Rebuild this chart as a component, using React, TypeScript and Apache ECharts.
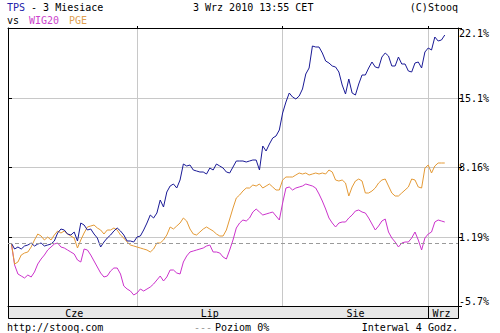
import React, { useEffect, useRef } from 'react';
import * as echarts from 'echarts';

// ---- data ----
const MONTH_LABELS = ['Cze', 'Lip', 'Sie', 'Wrz'];
const MONTH_LABEL_SLOTS = [20, 61, 105, 131];
const MONTH_START_SLOTS = [39, 83, 127];
const SLOT_COUNT = 137;

const Y_TICKS = [-5.7, 1.19, 8.16, 15.1, 22.1];
const Y_TICK_LABELS = ['-5.7%', '1.19%', '8.16%', '15.1%', '22.1%'];
const ZERO_LEVEL = 0.6;

const TPS = [
  0.6, 0.0, 0.2, 0.0, 0.3, 0.4, 0.6, 0.3, 0.5, 0.6,
  0.3, 0.4, 0.5, 0.8, 1.6, 2.0, 1.9, 1.5, 1.4, 1.7,
  0.8, 2.6, 2.4, 1.9, 2.0, 1.5, 1.1, 0.2, 0.7, 1.1,
  1.4, 1.8, 2.1, 1.8, 1.4, 0.8, 0.8, 0.7, 1.2, 1.3,
  1.9, 2.6, 3.4, 3.1, 3.6, 4.9, 4.2, 5.7, 6.3, 6.5,
  6.1, 6.9, 8.5, 8.3, 8.4, 7.9, 7.8, 7.7, 7.7, 7.5,
  8.1, 7.9, 8.5, 8.3, 8.1, 7.7, 7.6, 8.2, 8.8, 8.8,
  8.8, 8.7, 8.8, 8.9, 8.9, 7.9, 10.3, 9.8, 10.5, 11.1,
  11.3, 11.9, 13.6, 14.7, 15.6, 15.2, 15.0, 15.3, 16.0, 17.5,
  18.1, 20.3, 20.2, 20.2, 19.6, 18.8, 18.6, 18.3, 18.2, 17.7,
  16.4, 15.5, 17.0, 15.6, 15.4, 16.5, 17.4, 17.4, 18.1, 18.7,
  18.2, 18.1, 19.2, 19.6, 19.3, 18.3, 18.3, 19.2, 18.5, 18.5,
  17.8, 17.7, 18.6, 18.7, 18.1, 19.7, 20.1, 19.9, 21.2, 20.8,
  20.9, 21.4,
];

const PGE = [
  0.6, -1.5, -1.3, -0.6, -0.4, -0.3, 0.2, 0.9, 1.5, 1.3,
  0.9, 1.2, 0.9, 1.4, 1.8, 1.6, 1.8, 1.5, 1.3, 1.1,
  0.1, 0.9, 1.6, 2.2, 2.3, 2.4, 2.1, 1.9, 1.5, 1.9,
  1.9, 2.1, 1.9, 1.4, 1.1, 0.7, 0.4, 0.3, 0.2, 0.1,
  0.0, -0.1, -0.3, 0.0, 0.6, 0.6, 0.9, 1.4, 2.2, 2.0,
  2.3, 2.6, 3.1, 2.8, 2.0, 1.5, 1.4, 1.7, 2.0, 2.2,
  2.0, 1.8, 1.5, 1.3, 1.3, 1.9, 3.0, 4.1, 5.1, 5.4,
  5.8, 6.1, 6.1, 6.4, 6.3, 6.5, 6.1, 6.3, 6.5, 6.2,
  5.9, 5.9, 6.9, 7.2, 7.2, 7.2, 7.4, 7.6, 7.5, 7.6,
  7.4, 7.5, 7.6, 7.5, 7.6, 7.5, 7.9, 7.7, 6.9, 6.8,
  6.9, 6.6, 5.3, 6.2, 6.8, 7.0, 6.8, 5.6, 5.6, 5.8,
  6.1, 6.6, 6.9, 7.0, 6.3, 5.6, 5.3, 5.3, 5.6, 5.9,
  6.2, 7.0, 6.9, 6.2, 6.1, 8.1, 8.4, 7.6, 8.3, 8.6,
  8.6, 8.6,
];

const WIG20 = [
  0.6, -1.6, -2.5, -2.7, -2.9, -2.6, -2.8, -2.3, -1.5, -1.0,
  -0.6, -0.1, 0.2, 0.5, 0.6, 0.2, 0.1, -0.1, -0.3, -0.5,
  -1.1, -1.3, 0.0, -0.1, -0.6, -1.2, -1.8, -2.4, -2.8, -2.7,
  -2.2, -1.9, -1.9, -2.5, -3.7, -4.0, -4.2, -4.6, -4.4, -4.0,
  -4.2, -4.0, -3.8, -3.5, -3.1, -2.7, -3.2, -2.8, -2.1, -2.1,
  -2.4, -2.5, -1.3, -0.7, -0.3, -0.2, -0.1, 0.0, 0.1, 0.3,
  0.4, -0.3, -0.3, -0.4, -0.8, -1.0, -0.1, 0.9, 2.1, 2.6,
  2.9, 2.8, 3.1, 3.7, 4.0, 3.7, 3.4, 3.5, 3.6, 3.7,
  3.3, 2.9, 4.6, 6.1, 6.2, 5.9, 6.1, 6.2, 6.3, 6.5,
  6.4, 6.3, 6.1, 5.5, 4.8, 4.0, 3.1, 2.6, 2.2, 2.6,
  2.7, 2.7, 3.1, 3.4, 3.8, 3.9, 3.7, 3.6, 3.1, 2.5,
  1.9, 2.3, 2.8, 3.0, 1.7, 1.1, 0.7, 0.2, 0.6, 0.7,
  0.7, 1.1, 1.7, 0.9, -0.1, 1.1, 1.5, 1.7, 2.7, 2.9,
  2.8, 2.7,
];

const COLORS = { tps: '#1a1a96', wig: '#cc33cc', pge: '#e49a36' };
const FONT = '"DejaVu Sans Mono", monospace';

export default function App() {
  const ref = useRef<HTMLDivElement>(null);

  useEffect(() => {
    if (!ref.current) return;
    const chart = echarts.init(ref.current, null, { renderer: 'svg' });
    const categories = Array.from({ length: SLOT_COUNT }, (_, i) => 'p' + i);
    const pad = (arr: number[]) => [null, ...arr];
    const tickLabel = (v: number) => {
      let best = 0;
      Y_TICKS.forEach((t, i) => {
        if (Math.abs(t - v) < Math.abs(Y_TICKS[best] - v)) best = i;
      });
      return Y_TICK_LABELS[best];
    };
    const txt = (text: string, x: number, y: number, fill = '#000', align = 'left') => ({
      type: 'text',
      x,
      y,
      silent: true,
      style: { text, fill, font: '10px ' + FONT, align, verticalAlign: 'middle' },
    });

    chart.setOption({
      animation: false,
      backgroundColor: '#fff',
      grid: { left: 8, right: 42, top: 28, bottom: 27, containLabel: false },
      xAxis: [
        {
          type: 'category',
          data: categories,
          boundaryGap: false,
          position: 'bottom',
          axisLine: { show: true, onZero: false, lineStyle: { color: '#000', width: 1 } },
          axisTick: {
            show: true,
            inside: false,
            length: 12,
            interval: (i: number) => i === MONTH_START_SLOTS[MONTH_START_SLOTS.length - 1],
            lineStyle: { color: '#000' },
          },
          axisLabel: {
            show: true,
            interval: (i: number) => MONTH_LABEL_SLOTS.includes(i),
            formatter: (_v: string, i: number) => {
              const k = MONTH_LABEL_SLOTS.indexOf(i);
              return k >= 0 ? MONTH_LABELS[k] : '';
            },
            margin: 2,
            fontSize: 10,
            fontFamily: FONT,
            color: '#000',
          },
          splitLine: {
            show: true,
            interval: (i: number) => MONTH_START_SLOTS.includes(i),
            lineStyle: { color: '#c8c8c8', width: 1 },
          },
        },
        {
          type: 'category',
          data: categories,
          boundaryGap: false,
          position: 'top',
          axisLine: { show: true, onZero: false, lineStyle: { color: '#000', width: 1 } },
          axisTick: {
            show: true,
            length: 2,
            interval: (i: number) => MONTH_START_SLOTS.includes(i),
            lineStyle: { color: '#000' },
          },
          axisLabel: { show: false },
          splitLine: { show: false },
        },
      ],
      yAxis: [
        {
          type: 'value',
          position: 'right',
          min: Y_TICKS[0],
          max: Y_TICKS[Y_TICKS.length - 1],
          axisLine: { show: true, onZero: false, lineStyle: { color: '#000', width: 1 } },
          axisTick: { show: true, inside: false, length: 4, customValues: Y_TICKS, lineStyle: { color: '#000' } },
          axisLabel: {
            show: true,
            customValues: Y_TICKS,
            formatter: (v: number) => tickLabel(v),
            margin: 1,
            fontSize: 10,
            fontFamily: FONT,
            color: '#000',
            verticalAlignMinLabel: 'bottom',
            verticalAlignMaxLabel: 'top',
          },
          splitLine: { show: true, lineStyle: { color: '#c8c8c8', width: 1 } },
        },
        {
          type: 'value',
          position: 'left',
          min: Y_TICKS[0],
          max: Y_TICKS[Y_TICKS.length - 1],
          axisLine: { show: true, onZero: false, lineStyle: { color: '#000', width: 1 } },
          axisTick: { show: true, inside: true, length: 4, customValues: Y_TICKS, lineStyle: { color: '#000' } },
          axisLabel: { show: false },
          splitLine: { show: false },
        },
      ],
      series: [
        {
          name: 'Poziom 0%',
          type: 'line',
          data: [],
          silent: true,
          markLine: {
            silent: true,
            symbol: 'none',
            label: { show: false },
            lineStyle: { color: '#9a9a9a', width: 1, type: [4, 3] },
            data: [{ yAxis: ZERO_LEVEL }],
          },
        },
        {
          name: 'WIG20',
          type: 'line',
          data: pad(WIG20),
          showSymbol: false,
          silent: true,
          lineStyle: { color: COLORS.wig, width: 1 },
          itemStyle: { color: COLORS.wig },
        },
        {
          name: 'PGE',
          type: 'line',
          data: pad(PGE),
          showSymbol: false,
          silent: true,
          lineStyle: { color: COLORS.pge, width: 1 },
          itemStyle: { color: COLORS.pge },
        },
        {
          name: 'TPS',
          type: 'line',
          data: pad(TPS),
          showSymbol: false,
          silent: true,
          lineStyle: { color: COLORS.tps, width: 1 },
          itemStyle: { color: COLORS.tps },
        },
      ],
      graphic: {
        elements: [
          {
            type: 'rect',
            z: -1,
            silent: true,
            shape: { x: 8.5, y: 306.5, width: 450, height: 12 },
            style: { fill: '#e8e8e8', stroke: '#000', lineWidth: 1 },
          },
          {
            type: 'text',
            x: 7,
            y: 7,
            silent: true,
            style: {
              text: '{t|TPS}{k| - 3 Miesiace}',
              font: '10px ' + FONT,
              verticalAlign: 'middle',
              rich: {
                t: { fill: '#2222aa', font: '10px ' + FONT },
                k: { fill: '#000', font: '10px ' + FONT },
              },
            },
          },
          txt('3 Wrz 2010 13:55 CET', 193, 7),
          txt('(C)Stooq', 458, 7, '#000', 'right'),
          txt('vs', 7, 20),
          txt('WIG20', 29, 20, '#cc44cc'),
          txt('PGE', 69, 20, '#e0a050'),
          txt('http://stooq.com', 7, 327),
          txt('---', 194, 327, '#9a9a9a'),
          txt('Poziom 0%', 215, 327),
          txt('Interwal 4 Godz.', 458, 327, '#000', 'right'),
        ],
      },
    });
    return () => chart.dispose();
  }, []);

  return (
    <div
      ref={ref}
      style={{ position: 'fixed', left: 0, top: 0, width: 500, height: 333, background: '#fff' }}
    />
  );
}
